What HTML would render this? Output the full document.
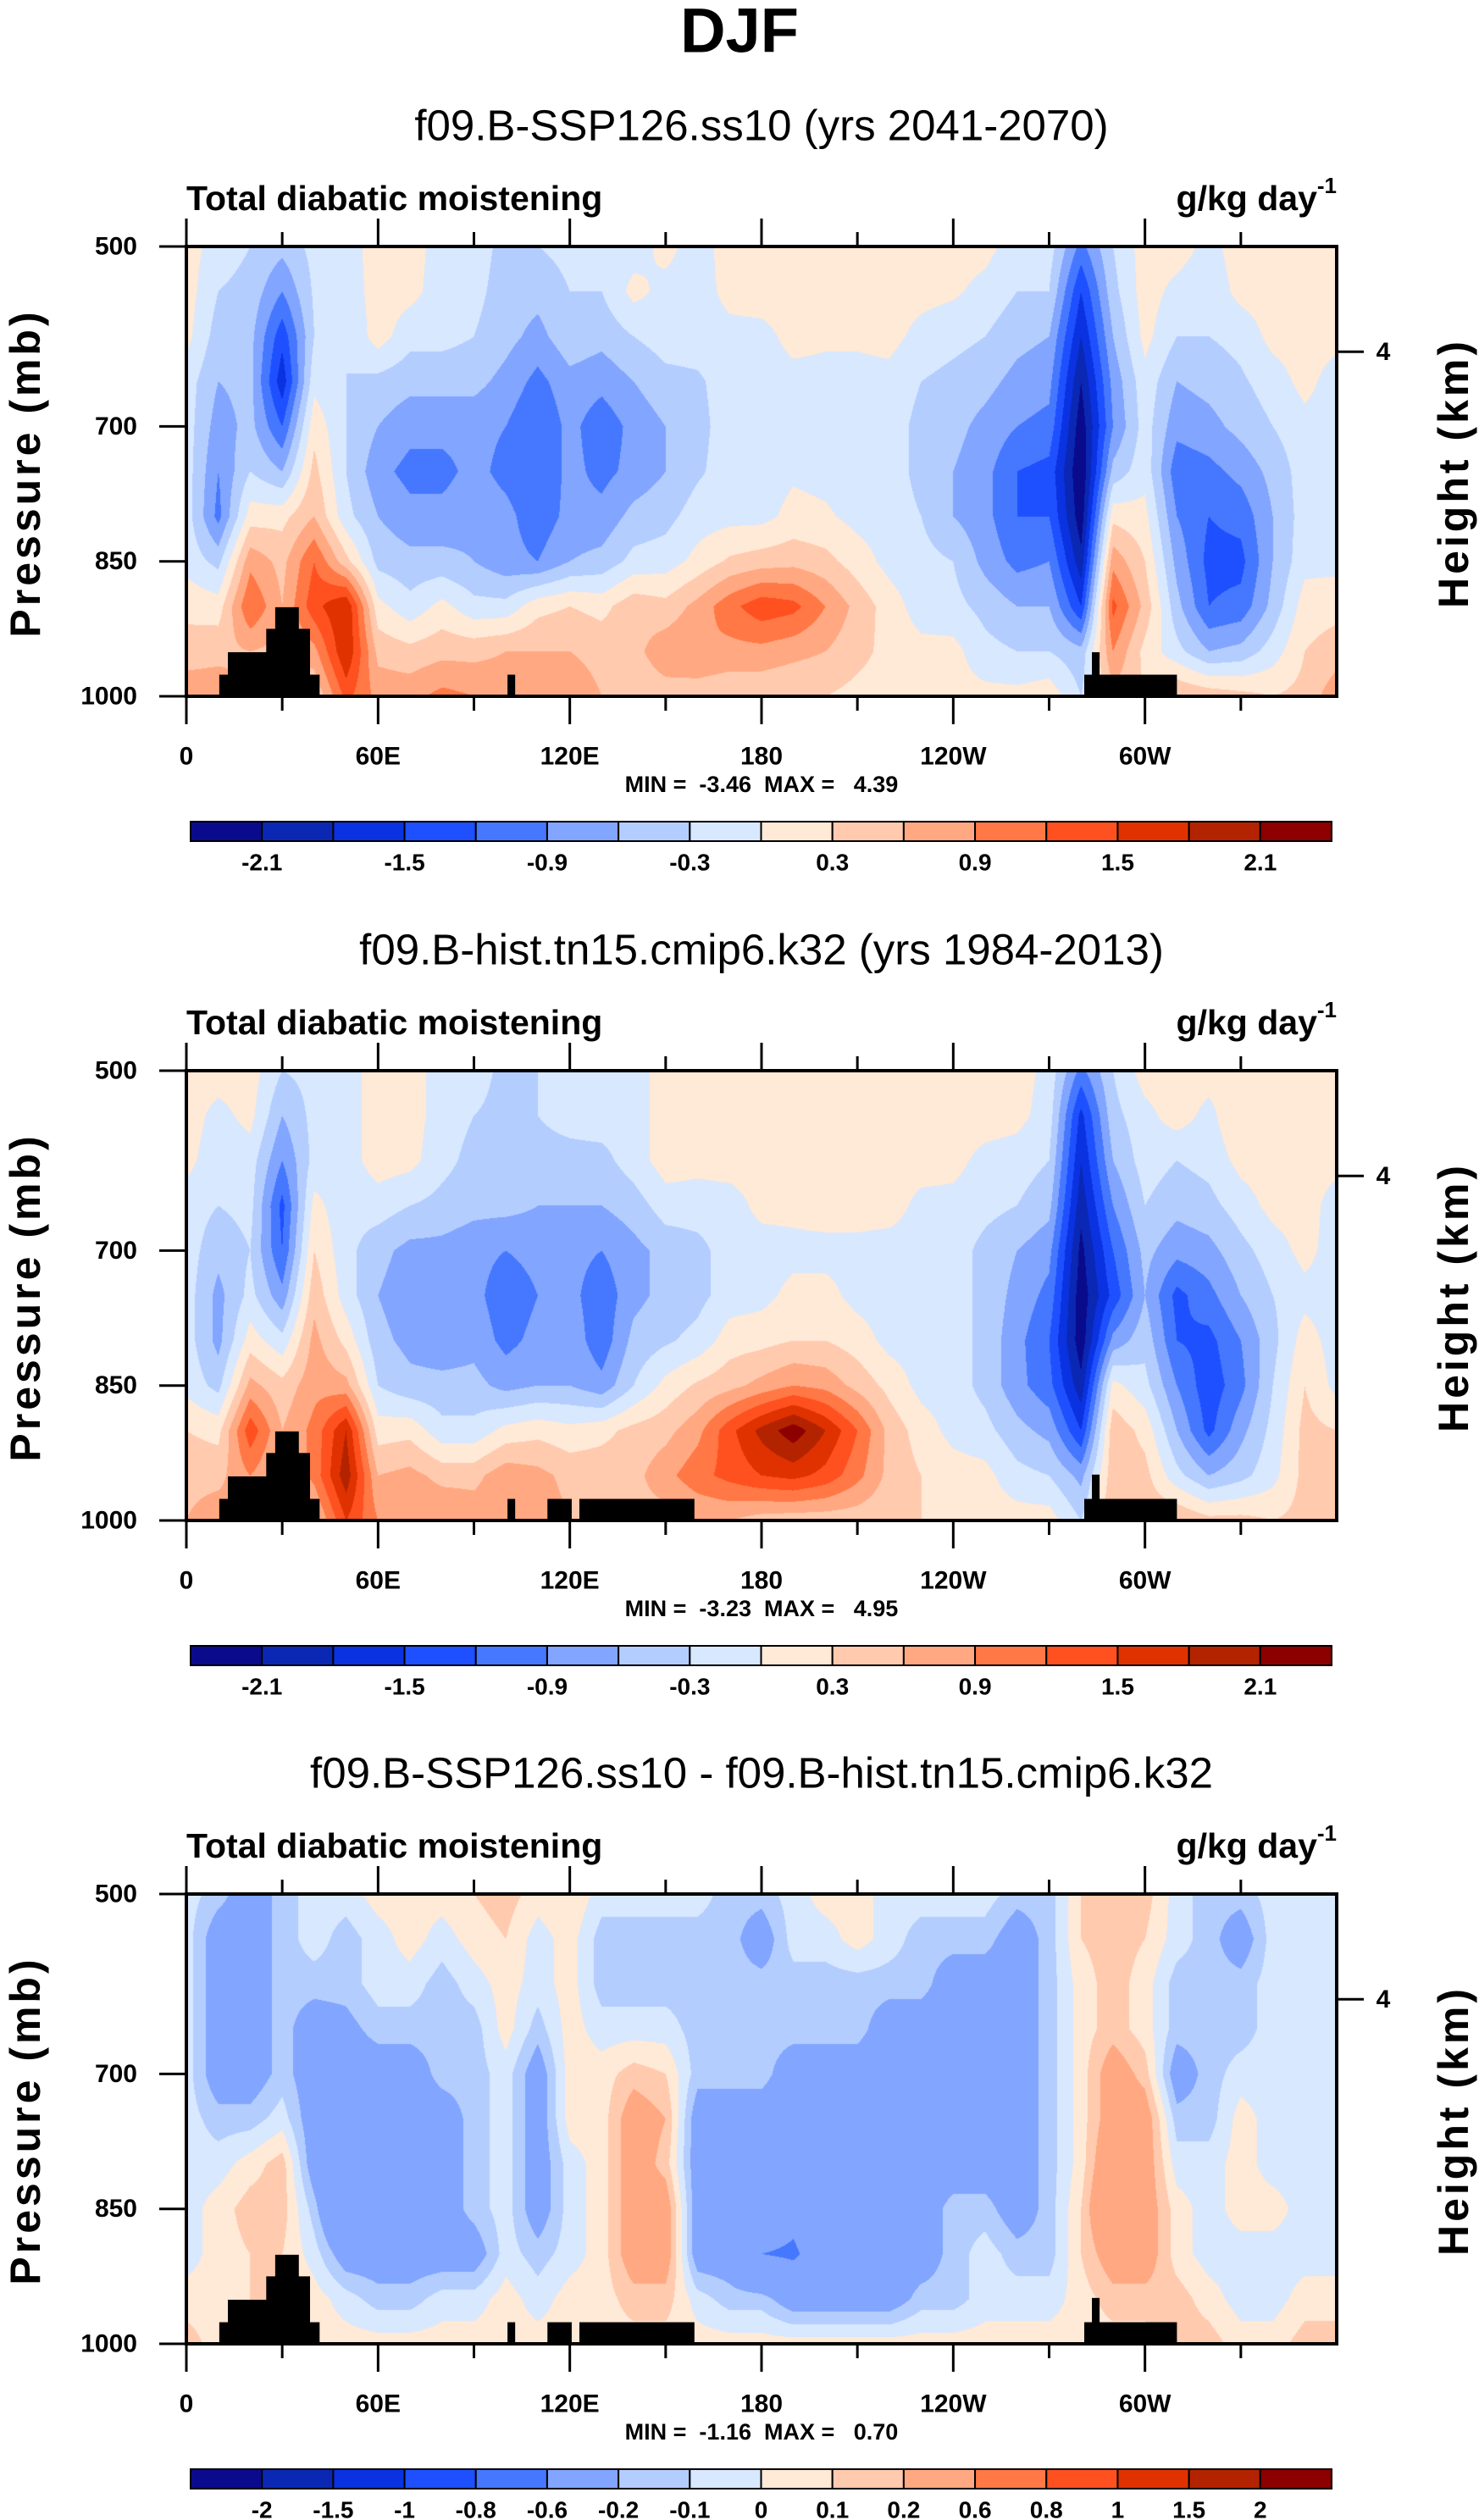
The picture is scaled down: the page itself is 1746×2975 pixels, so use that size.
<!DOCTYPE html>
<html><head><meta charset="utf-8">
<style>
html,body{margin:0;padding:0;background:#fff;}
#wrap{position:relative;width:1746px;height:2975px;overflow:hidden;background:#fff;}
canvas{position:absolute;}
svg{position:absolute;left:0;top:0;}
text{font-family:"Liberation Sans",Arial,sans-serif;white-space:pre;}
</style></head>
<body>
<div id="wrap">
<svg id="svg" width="1746" height="2975">
<text x="873" y="36" text-anchor="middle" dominant-baseline="central" font-size="74" font-weight="bold">DJF</text>
</svg>
</div>
<script>
// ---------- data ----------
const lonStep = 10;
const pLevels = [500,550,600,650,700,750,800,850,900,950,1000];
const contourLevels12 = [-2.1,-1.8,-1.5,-1.2,-0.9,-0.6,-0.3,0,0.3,0.6,0.9,1.2,1.5,1.8,2.1];
const contourLabels12 = ["-2.1","","-1.5","","-0.9","","-0.3","","0.3","","0.9","","1.5","","2.1"];
const contourLevels3 = [-2,-1.5,-1,-0.8,-0.6,-0.2,-0.1,0,0.1,0.2,0.6,0.8,1,1.5,2];
const contourLabels3 = ["-2","-1.5","-1","-0.8","-0.6","-0.2","-0.1","0","0.1","0.2","0.6","0.8","1","1.5","2"];
const xTickLons = [0,60,120,180,240,300];
const xTickLabels = ["0","60E","120E","180","120W","60W"];
const yTickP = [500,700,850,1000];
const yTickLabels = ["500","700","850","1000"];
const field1 = [
[0.15,0.15,0.1,-0.15,-0.15,-0.15,-0.15,-0.1,0.2,0.45,0.8],
[-0.15,-0.3,-0.45,-0.6,-0.75,-0.9,-1.0,-0.4,0.15,0.5,0.8],
[-0.3,-0.4,-0.5,-0.5,-0.5,-0.3,0.15,0.8,1.2,0.6,0.5],
[-0.5,-0.9,-1.4,-1.7,-1.2,-0.6,0.2,0.5,0.6,0.5,0.5],
[-0.2,-0.25,-0.3,-0.1,0.2,0.4,0.6,1.2,1.4,0.8,0.3],
[-0.15,-0.2,-0.3,-0.3,-0.3,-0.3,-0.2,0.4,1.8,1.8,1.3],
[0.15,0.15,0.15,-0.4,-0.6,-0.8,-0.6,-0.4,0.1,0.5,0.8],
[0.15,0.1,-0.2,-0.5,-0.8,-1.0,-0.8,-0.5,-0.2,0.4,0.8],
[-0.15,-0.15,-0.2,-0.5,-0.8,-1.0,-0.8,-0.5,0.1,0.5,1.0],
[-0.15,-0.2,-0.3,-0.5,-0.8,-0.8,-0.7,-0.6,-0.2,0.5,0.9],
[-0.4,-0.45,-0.5,-0.7,-0.9,-1.0,-0.8,-0.8,-0.2,0.6,0.8],
[-0.3,-0.5,-0.7,-1.0,-1.2,-1.2,-1.1,-0.9,0.2,0.6,0.8],
[-0.2,-0.3,-0.4,-0.7,-0.8,-0.8,-0.8,-0.6,0.3,0.6,0.8],
[-0.15,-0.3,-0.5,-0.8,-1.1,-1.0,-0.8,-0.5,0.2,0.5,0.6],
[-0.15,0.1,-0.3,-0.6,-0.8,-0.8,-0.5,-0.2,0.5,0.5,0.4],
[0.1,-0.1,-0.15,-0.4,-0.6,-0.6,-0.4,-0.15,0.4,0.8,0.45],
[-0.15,-0.15,-0.15,-0.35,-0.4,-0.35,-0.15,0.1,0.7,0.9,0.4],
[0.15,0.1,-0.1,-0.15,-0.15,-0.15,-0.1,0.35,1.1,0.8,0.35],
[0.15,0.15,-0.1,-0.15,-0.15,-0.15,-0.1,0.45,1.4,0.8,0.35],
[0.15,0.15,0.1,-0.1,-0.1,-0.05,0.1,0.5,1.3,0.7,0.3],
[0.15,0.15,0.05,-0.1,-0.15,-0.1,0.05,0.4,0.9,0.6,0.3],
[0.15,0.15,0.05,-0.1,-0.15,-0.15,-0.1,0.15,0.5,0.4,0.2],
[0.15,0.15,0.1,-0.1,-0.15,-0.15,-0.15,-0.1,0.15,0.2,0.15],
[0.15,0.1,-0.1,-0.3,-0.4,-0.4,-0.3,-0.2,-0.15,0.1,0.1],
[0.15,0.05,-0.2,-0.4,-0.5,-0.6,-0.6,-0.3,-0.2,0.1,0.1],
[0.1,-0.1,-0.3,-0.5,-0.7,-0.8,-0.8,-0.7,-0.4,-0.2,0.1],
[-0.15,-0.3,-0.5,-0.7,-0.9,-1.2,-1.2,-1.0,-0.6,-0.3,0.1],
[-0.15,-0.3,-0.6,-0.8,-1.0,-1.3,-1.2,-0.9,-0.6,-0.3,0.2],
[-1.0,-1.5,-1.8,-2.1,-2.3,-2.4,-2.3,-2.0,-1.5,-0.5,-0.3],
[-0.3,-0.4,-0.6,-0.8,-0.9,-0.5,0.2,0.8,1.3,0.9,0.5],
[0.15,0.15,0.1,-0.1,-0.15,-0.1,0.1,0.3,0.5,0.2,0.3],
[0.15,-0.1,-0.3,-0.6,-0.8,-1.1,-0.9,-0.7,-0.5,-0.2,0.6],
[-0.1,-0.2,-0.3,-0.5,-0.7,-1.0,-1.2,-1.3,-1.2,-0.6,0.5],
[0.15,0.1,-0.2,-0.35,-0.5,-0.8,-1.1,-1.3,-1.1,-0.5,0.4],
[0.15,0.15,0.1,-0.15,-0.3,-0.5,-0.6,-0.6,-0.5,-0.15,0.3],
[0.15,0.15,0.15,0.1,-0.1,-0.15,-0.15,-0.1,0.15,0.3,0.4]
];
const field2 = [
[0.15,0.15,0.1,-0.15,-0.15,-0.15,-0.15,-0.1,0.3,0.5,0.6],
[0.15,-0.1,-0.2,-0.3,-0.5,-0.7,-0.7,-0.4,0.2,0.5,0.8],
[0.15,0.1,-0.15,-0.2,-0.3,-0.2,0.15,0.7,1.4,0.9,0.6],
[-0.3,-0.6,-0.9,-1.3,-1.2,-0.8,-0.2,0.4,0.6,0.5,0.5],
[-0.2,-0.2,-0.2,0.1,0.3,0.5,0.7,0.8,1.0,1.0,0.5],
[-0.15,-0.15,-0.15,-0.2,-0.2,-0.15,0.2,0.7,1.8,2.0,1.5],
[0.15,0.15,0.15,-0.15,-0.5,-0.6,-0.5,-0.3,0.15,0.6,0.9],
[0.15,0.15,0.1,-0.3,-0.7,-0.8,-0.7,-0.5,0.2,0.7,0.9],
[-0.15,-0.15,-0.2,-0.4,-0.7,-0.8,-0.8,-0.5,-0.2,0.5,0.9],
[-0.15,-0.3,-0.4,-0.5,-0.8,-0.8,-0.7,-0.5,-0.2,0.5,0.8],
[-0.4,-0.4,-0.3,-0.5,-0.9,-1.1,-1.0,-0.7,0.1,0.8,0.8],
[-0.3,-0.3,-0.4,-0.6,-0.8,-0.9,-0.8,-0.6,0.2,0.7,0.8],
[-0.2,-0.2,-0.4,-0.6,-0.8,-0.8,-0.7,-0.6,0.1,0.5,0.6],
[-0.15,-0.15,-0.4,-0.6,-0.9,-1.1,-1.1,-0.8,0.2,0.5,0.6],
[-0.15,-0.15,-0.15,-0.45,-0.7,-0.7,-0.5,-0.3,0.4,0.5,0.5],
[0.15,0.15,0.15,-0.15,-0.5,-0.5,-0.35,0.1,0.5,0.8,0.45],
[0.15,0.15,0.1,-0.15,-0.4,-0.4,-0.2,0.35,0.8,1.1,0.6],
[0.15,0.15,0.15,-0.15,-0.15,-0.15,0.15,0.5,1.4,1.3,0.6],
[0.15,0.15,0.15,0.1,-0.15,-0.1,0.2,0.7,1.9,1.5,0.45],
[0.15,0.15,0.15,0.1,-0.1,0.1,0.3,0.9,2.3,1.6,0.4],
[0.15,0.15,0.15,0.15,-0.1,0.1,0.3,0.8,1.8,1.4,0.4],
[0.15,0.15,0.15,0.15,-0.1,-0.1,0.15,0.5,1.2,1.0,0.4],
[0.15,0.15,0.15,0.15,-0.15,-0.15,-0.1,0.2,0.5,0.5,0.35],
[0.15,0.15,0.15,-0.1,-0.15,-0.15,-0.15,-0.1,0.15,0.3,0.3],
[0.15,0.15,0.1,-0.1,-0.15,-0.15,-0.15,-0.15,-0.1,0.15,0.2],
[0.15,0.15,-0.1,-0.2,-0.4,-0.4,-0.4,-0.4,-0.2,0.1,0.15],
[0.15,0.1,-0.15,-0.3,-0.6,-0.7,-0.8,-0.8,-0.5,-0.2,0.15],
[-0.1,-0.15,-0.3,-0.5,-0.8,-1.0,-1.2,-1.1,-0.7,-0.3,0.15],
[-1.0,-1.6,-1.8,-2.0,-2.2,-2.3,-2.3,-2.0,-1.5,-0.7,-0.3],
[-0.3,-0.4,-0.6,-0.9,-1.2,-1.4,-0.8,0.1,0.5,0.5,0.6],
[0.15,-0.1,-0.15,-0.3,-0.5,-0.6,-0.4,-0.2,0.2,0.4,0.5],
[0.15,0.15,-0.3,-0.5,-0.8,-1.3,-1.2,-0.9,-0.6,-0.2,0.6],
[0.15,-0.1,-0.2,-0.4,-0.7,-1.0,-1.3,-1.4,-1.3,-0.6,0.4],
[0.15,0.3,0.1,-0.15,-0.4,-0.6,-0.9,-1.0,-0.7,-0.4,0.4],
[0.15,0.3,0.15,0.1,-0.15,-0.3,-0.4,-0.3,-0.2,-0.1,0.3],
[0.15,0.15,0.15,0.15,0.1,-0.1,0.15,0.3,0.4,0.4,0.4]
];
const field3 = [
[-0.05,-0.05,-0.05,-0.05,-0.05,-0.05,-0.05,-0.05,-0.05,0.05,0.15],
[-0.15,-0.3,-0.3,-0.3,-0.3,-0.15,-0.05,0.05,0.05,0.05,0.05],
[-0.3,-0.3,-0.3,-0.3,-0.3,-0.15,0.05,0.15,0.1,0.1,0.1],
[-0.15,-0.15,-0.15,-0.15,-0.15,-0.05,0.15,0.15,0.1,0.1,0.1],
[-0.05,-0.05,-0.15,-0.3,-0.3,-0.3,-0.3,-0.15,-0.05,0.05,0.05],
[-0.05,-0.15,-0.15,-0.25,-0.3,-0.3,-0.4,-0.6,-0.3,-0.05,0.05],
[0.05,-0.05,-0.05,-0.15,-0.3,-0.3,-0.4,-0.4,-0.3,-0.15,0.05],
[0.05,0.05,-0.05,-0.15,-0.3,-0.3,-0.3,-0.3,-0.3,-0.15,0.05],
[0.05,-0.05,-0.15,-0.15,-0.15,-0.3,-0.3,-0.3,-0.3,-0.05,0.05],
[0.1,0.05,-0.05,-0.15,-0.15,-0.15,-0.15,-0.15,-0.3,-0.05,0.05],
[0.15,0.1,0.05,0.05,-0.05,-0.05,-0.05,-0.05,-0.05,0.05,0.05],
[0.05,-0.05,-0.05,-0.15,-0.3,-0.3,-0.3,-0.3,-0.15,-0.05,0.05],
[0.1,0.05,0.05,0.05,0.05,0.05,-0.05,-0.05,-0.05,0.05,0.05],
[-0.05,-0.15,-0.15,-0.05,0.05,0.05,0.05,0.05,0.05,0.05,0.05],
[-0.05,-0.15,-0.15,-0.05,0.15,0.3,0.3,0.3,0.3,0.15,0.05],
[-0.05,-0.15,-0.15,-0.05,0.1,0.2,0.15,0.3,0.3,0.15,0.05],
[-0.05,-0.15,-0.15,-0.15,-0.15,-0.3,-0.3,-0.3,-0.3,-0.05,0.05],
[-0.15,-0.15,-0.15,-0.15,-0.15,-0.3,-0.3,-0.3,-0.3,-0.15,0.05],
[-0.15,-0.3,-0.15,-0.15,-0.15,-0.3,-0.3,-0.3,-0.6,-0.15,0.05],
[-0.05,-0.05,-0.15,-0.15,-0.3,-0.3,-0.3,-0.5,-0.65,-0.3,0.05],
[0.05,-0.05,-0.15,-0.15,-0.3,-0.3,-0.3,-0.3,-0.4,-0.3,0.05],
[0.05,0.05,-0.15,-0.15,-0.3,-0.3,-0.3,-0.3,-0.3,-0.3,0.05],
[-0.05,-0.05,-0.15,-0.3,-0.3,-0.3,-0.3,-0.3,-0.3,-0.3,0.05],
[-0.05,-0.15,-0.15,-0.3,-0.3,-0.3,-0.3,-0.3,-0.3,-0.15,0.05],
[-0.05,-0.15,-0.3,-0.3,-0.3,-0.3,-0.3,-0.15,-0.15,-0.15,0.05],
[-0.05,-0.15,-0.3,-0.3,-0.3,-0.3,-0.3,-0.15,-0.05,-0.05,0.05],
[-0.15,-0.3,-0.3,-0.3,-0.3,-0.3,-0.3,-0.3,-0.15,-0.05,0.05],
[-0.15,-0.15,-0.15,-0.15,-0.15,-0.15,-0.15,-0.15,-0.15,-0.05,0.05],
[0.1,0.1,0.05,0.05,0.05,0.05,0.05,0.1,0.1,0.05,0.05],
[0.15,0.15,0.15,0.15,0.3,0.3,0.4,0.5,0.3,0.15,0.05],
[0.15,0.1,0.05,0.05,0.15,0.3,0.3,0.3,0.3,0.15,0.05],
[-0.05,-0.05,-0.15,-0.15,-0.3,-0.15,-0.05,0.05,0.05,0.15,0.15],
[-0.15,-0.15,-0.15,-0.15,-0.15,-0.15,-0.05,-0.05,-0.05,0.05,0.15],
[-0.15,-0.3,-0.15,-0.15,-0.05,0.05,0.05,0.05,-0.05,-0.05,0.05],
[-0.05,-0.05,-0.05,-0.05,-0.05,-0.05,-0.05,0.05,-0.05,-0.05,0.05],
[-0.05,-0.05,-0.05,-0.05,-0.05,-0.05,-0.05,-0.05,-0.05,0.05,0.15]
];
const topo1 = [[10.3,41.7,976],[13,38.7,951],[25,38.7,925],[27.8,35.2,901],[100.5,102.9,976],[281,310,976],[283.4,285.8,951]];
const topo2 = [[10.3,41.7,976],[13,38.7,951],[25,38.7,925],[27.8,35.2,901],[100.5,102.9,976],[113,120.6,976],[123,159,976],[281,310,976],[283.4,285.8,949]];
const heightTickP = 617;
const palette = ["#0a0a8c","#0a28b4","#0a32e0","#1e50ff","#4678ff","#82a5ff","#b4cdff","#d7e8ff","#ffe9d7","#ffcaae","#ffa882","#ff7846","#ff5020","#e03200","#b42300","#8c0000"];

// ---------- layout ----------
const PX0 = 220, PW = 1358, PH = 531;
const NS = "http://www.w3.org/2000/svg";
const svg = document.getElementById('svg');
const wrap = document.getElementById('wrap');

function mk(tag, attrs, parent){
  const e = document.createElementNS(NS, tag);
  for (const k in attrs) e.setAttribute(k, attrs[k]);
  (parent||svg).appendChild(e);
  return e;
}
function txt(x,y,s,size,opts,parent){
  const t = mk('text',Object.assign({x:x,y:y,'font-size':size,'dominant-baseline':'central'},opts||{}),parent);
  t.textContent = s;
  return t;
}
function hexRgb(h){return [parseInt(h.slice(1,3),16),parseInt(h.slice(3,5),16),parseInt(h.slice(5,7),16)];}
const rgbPal = palette.map(hexRgb);

function drawPanel(idx, top, subtitle, field, topo, levels, labels, minmax){
  const xs = lon => PX0 + lon/360*PW;
  const ys = p => top + (p-500)/500*PH;
  const g = mk('g',{});
  
  

  const cv = document.createElement('canvas');
  cv.width = PW; cv.height = PH;
  cv.style.left = PX0+'px'; cv.style.top = top+'px';
  
  
  wrap.insertBefore(cv, svg);
  const ctx = cv.getContext('2d');
  const img = ctx.createImageData(PW, PH);
  const nL = field.length, nP = pLevels.length;
  for (let y=0;y<PH;y++){
    const p = 500 + (y+0.5)/PH*500;
    let fj = (p-pLevels[0])/(pLevels[1]-pLevels[0]);
    let j0 = Math.min(Math.floor(fj), nP-2); const tj = fj-j0;
    for (let x=0;x<PW;x++){
      const lon = (x+0.5)/PW*360;
      const fi = lon/lonStep;
      const i0 = Math.min(Math.floor(fi), nL-1); const ti = fi-i0;
      const i1 = (i0+1)%nL;
      const v = (1-ti)*((1-tj)*field[i0][j0]+tj*field[i0][j0+1]) + ti*((1-tj)*field[i1][j0]+tj*field[i1][j0+1]);
      let k=0; while(k<levels.length && v>=levels[k]) k++;
      const c = rgbPal[k]; const o=(y*PW+x)*4;
      img.data[o]=c[0];img.data[o+1]=c[1];img.data[o+2]=c[2];img.data[o+3]=255;
    }
  }
  ctx.putImageData(img,0,0);

  topo.forEach(b=>{
    const r = mk('rect',{x:xs(b[0]),y:ys(b[2]),width:xs(b[1])-xs(b[0]),height:ys(1000)-ys(b[2]),fill:'#000'},g);
    
    
  });

  const fr = mk('rect',{x:PX0,y:top,width:PW,height:PH,fill:'none',stroke:'#000','stroke-width':4},g);
  
  

  for (let lon=0; lon<360; lon+=30){
    const major = lon%60===0; const L = major?33:17;
    mk('line',{x1:xs(lon),x2:xs(lon),y1:ys(1000),y2:ys(1000)+L,stroke:'#000','stroke-width':3},g);
    mk('line',{x1:xs(lon),x2:xs(lon),y1:top,y2:top-L,stroke:'#000','stroke-width':3},g);
  }
  xTickLons.forEach((lon,i)=>{
    const t = txt(xs(lon), top+602, xTickLabels[i], 30, {'text-anchor':'middle','font-weight':'bold'}, g);
    
    
  });
  yTickP.forEach((p,i)=>{
    mk('line',{x1:PX0-32,x2:PX0,y1:ys(p),y2:ys(p),stroke:'#000','stroke-width':3},g);
    const t = txt(PX0-58, ys(p), yTickLabels[i], 30, {'text-anchor':'end','font-weight':'bold'}, g);
    
    
  });
  mk('line',{x1:PX0+PW,x2:PX0+PW+32,y1:ys(heightTickP),y2:ys(heightTickP),stroke:'#000','stroke-width':3},g);
  const h4 = txt(PX0+PW+55, ys(heightTickP), '4', 30, {'text-anchor':'middle','font-weight':'bold'}, g);
  
  

  const yt = txt(0,0,'Pressure (mb)',50,{'text-anchor':'middle','font-weight':'bold','letter-spacing':4,transform:`translate(30,${top+PH/2+2}) rotate(-90)`},g);
  
  
  const rt = txt(0,0,'Height (km)',50,{'text-anchor':'middle','font-weight':'bold','letter-spacing':4,transform:`translate(1716,${top+PH/2+2}) rotate(-90)`},g);
  
  

  const st = txt(PX0+PW/2, top-143, subtitle, 51, {'text-anchor':'middle'}, g);
  
  
  const lt = txt(PX0, top-57, 'Total diabatic moistening', 41, {'font-weight':'bold'}, g);
  
  
  const ut = mk('text',{x:PX0+PW,y:top-57,'font-size':41,'font-weight':'bold','text-anchor':'end','dominant-baseline':'central'},g);
  
  
  ut.innerHTML = 'g/kg day<tspan font-size="26" dy="-15">-1</tspan>';
  const mm = txt(PX0+PW/2, top+635, minmax, 27, {'text-anchor':'middle','font-weight':'bold'}, g);
  
  

  const cbX=225, cbW=1347, cbY=top+679, cbH=23, bw=cbW/palette.length;
  palette.forEach((c,k)=>{
    const r = mk('rect',{x:cbX+k*bw,y:cbY,width:bw,height:cbH,fill:c,stroke:'#000','stroke-width':2},g);
    
    
  });
  labels.forEach((s,k)=>{
    if(!s) return;
    const t = txt(cbX+(k+1)*bw, top+727, s, 28, {'text-anchor':'middle','font-weight':'bold'}, g);
    
    
  });
}

drawPanel(1, 291, 'f09.B-SSP126.ss10 (yrs 2041-2070)', field1, topo1, contourLevels12, contourLabels12, 'MIN =  -3.46  MAX =   4.39');
drawPanel(2, 1264, 'f09.B-hist.tn15.cmip6.k32 (yrs 1984-2013)', field2, topo2, contourLevels12, contourLabels12, 'MIN =  -3.23  MAX =   4.95');
drawPanel(3, 2236, 'f09.B-SSP126.ss10 - f09.B-hist.tn15.cmip6.k32', field3, topo2, contourLevels3, contourLabels3, 'MIN =  -1.16  MAX =   0.70');
</script>
</body></html>
